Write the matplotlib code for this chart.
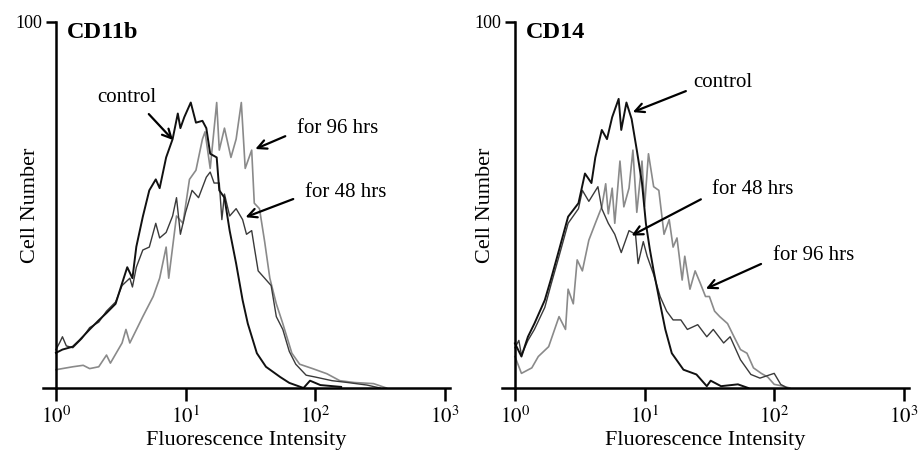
import numpy as np
import matplotlib
matplotlib.use("Agg")
import matplotlib.pyplot as plt
from matplotlib.ticker import NullLocator

plt.rcParams['font.family'] = ['Liberation Serif', 'DejaVu Serif']
plt.rcParams['mathtext.fontset'] = 'stix'

# log10 of fluorescence intensity, and cell counts (% of max scale)
# --- CD11b ---
cd11b_ctrl_log = [0.0, 0.05, 0.13, 0.18, 0.26, 0.33, 0.39, 0.46, 0.51, 0.55, 0.59, 0.62, 0.67, 0.72,
                  0.77, 0.80, 0.85, 0.90, 0.94, 0.96, 0.99, 1.04, 1.08, 1.13, 1.16, 1.19, 1.24, 1.26,
                  1.30, 1.34, 1.39, 1.44, 1.48, 1.55, 1.62, 1.73, 1.80, 1.91, 1.96, 2.04, 2.20]
cd11b_ctrl = [9.6, 10.5, 11.3, 13, 16, 18.5, 20.5, 23, 28.6, 33, 30, 38.6, 46.8, 54,
              57, 54.6, 63, 68, 75, 71, 74, 78, 72.5, 73, 71, 64, 63, 54,
              52, 43, 34, 24, 17.6, 9.5, 5.8, 3, 1.4, 0, 2, 0.8, 0.3]

cd11b_48_log = [0.0, 0.03, 0.05, 0.08, 0.13, 0.20, 0.26, 0.33, 0.39, 0.46, 0.51, 0.57, 0.59, 0.62,
                0.67, 0.72, 0.77, 0.80, 0.85, 0.90, 0.93, 0.96, 1.00, 1.05, 1.10, 1.16, 1.19, 1.22,
                1.26, 1.28, 1.30, 1.34, 1.39, 1.44, 1.47, 1.51, 1.53, 1.56, 1.61, 1.66, 1.70, 1.75,
                1.80, 1.85, 1.93, 2.00, 2.13, 2.25, 2.40, 2.50]
cd11b_48 = [10.5, 12.5, 14, 11.5, 11, 13.5, 16.5, 18, 21, 23.5, 28, 30, 27.6, 33,
            37.7, 38.5, 45, 41, 42.5, 47, 52, 42, 48, 54, 52, 57.6, 59, 56,
            56, 46, 53, 47, 49, 46, 42, 43, 38.5, 32, 30, 28, 19.5, 16,
            10, 6.5, 3.5, 3, 2, 1.5, 0.8, 0]

cd11b_96_log = [0.0, 0.13, 0.21, 0.26, 0.33, 0.39, 0.42, 0.51, 0.54, 0.57, 0.67, 0.75, 0.80, 0.85,
                0.87, 0.93, 0.98, 1.03, 1.08, 1.13, 1.15, 1.19, 1.24, 1.26, 1.30, 1.35, 1.39, 1.43,
                1.46, 1.51, 1.53, 1.57, 1.61, 1.65, 1.70, 1.75, 1.82, 1.88, 1.98, 2.09, 2.19, 2.30,
                2.45, 2.55]
cd11b_96 = [5, 5.8, 6.2, 5.3, 5.8, 9, 6.8, 12.3, 16, 12.3, 19.5, 25, 30, 38.5,
            30, 47, 45, 57, 59.5, 68, 70, 60, 78, 65, 71, 63, 68, 78,
            60, 65, 50.5, 49, 40, 30, 23, 17.6, 9.5, 6.5, 5.3, 3.9, 2, 1.5,
            1.2, 0]

# --- CD14 ---
cd14_ctrl_log = [0.0, 0.05, 0.10, 0.15, 0.23, 0.28, 0.34, 0.41, 0.49, 0.54, 0.59, 0.62, 0.67, 0.71,
                 0.75, 0.80, 0.82, 0.86, 0.90, 0.94, 0.98, 1.01, 1.04, 1.07, 1.12, 1.16, 1.21, 1.30,
                 1.40, 1.48, 1.51, 1.59, 1.72, 1.80]
cd14_ctrl = [12.2, 8.6, 14, 17.6, 24, 30, 37.7, 46.8, 50.5, 58.6, 56, 63, 70.5, 68,
             74, 79, 70.5, 78, 73.5, 65, 56, 45, 38, 32, 23, 16, 9.5, 5,
             3.7, 0.5, 2, 0.5, 1, 0]

cd14_48_log = [0.0, 0.03, 0.05, 0.10, 0.15, 0.23, 0.28, 0.34, 0.41, 0.49, 0.52, 0.57, 0.64, 0.67,
               0.72, 0.77, 0.82, 0.88, 0.93, 0.95, 0.99, 1.02, 1.07, 1.12, 1.17, 1.22, 1.28, 1.33,
               1.41, 1.48, 1.53, 1.61, 1.66, 1.74, 1.82, 1.89, 2.00, 2.05, 2.10]
cd14_48 = [11, 13, 9, 13, 16, 22, 28.5, 36, 45, 49, 54, 51, 55, 49,
           45, 42, 37, 43, 42, 34, 40, 36, 31, 25, 21, 18.6, 18.6, 16,
           17.3, 14, 16, 12.3, 14, 7.7, 3.7, 2.7, 4, 1, 0]

cd14_96_log = [0.0, 0.05, 0.13, 0.18, 0.26, 0.34, 0.39, 0.41, 0.45, 0.48, 0.52, 0.57, 0.62, 0.67,
               0.70, 0.72, 0.75, 0.77, 0.81, 0.84, 0.88, 0.91, 0.94, 0.98, 1.00, 1.03, 1.07, 1.11,
               1.15, 1.19, 1.22, 1.25, 1.29, 1.31, 1.35, 1.39, 1.43, 1.47, 1.50, 1.54, 1.58, 1.64,
               1.69, 1.74, 1.79, 1.84, 1.90, 1.95, 2.00, 2.07, 2.12]
cd14_96 = [8.6, 4, 5.5, 8.6, 11.3, 19.5, 16, 27, 23, 35, 32, 40.4, 45, 49.5,
           55.8, 47.6, 54.6, 45, 62, 49.5, 54.6, 65, 48, 62, 49.6, 64, 55, 54,
           42, 46, 38.5, 41, 29.5, 36, 27, 32, 28.6, 25, 25, 21, 19.5, 17.6,
           14, 10.5, 9.5, 5.5, 4, 3, 1, 0.5, 0]

panels = [
    dict(title="CD11b", left=43, ylab_x=-0.008,
         ctrl=(cd11b_ctrl_log, cd11b_ctrl), h48=(cd11b_48_log, cd11b_48), h96=(cd11b_96_log, cd11b_96),
         notes=[("control", (3.53, 79.5), (5.03, 75.4), (8.27, 67.2), "center"),
                ("for 96 hrs", (72.1, 70.8), (61.5, 69.1), (33.0, 65.0), "left"),
                ("for 48 hrs", (83.1, 53.3), (70.9, 51.9), (27.7, 46.4), "left")]),
    dict(title="CD14", left=502, ylab_x=-0.018,
         ctrl=(cd14_ctrl_log, cd14_ctrl), h48=(cd14_48_log, cd14_48), h96=(cd14_96_log, cd14_96),
         notes=[("control", (23.8, 83.6), (21.8, 81.4), (7.75, 75.1), "left"),
                ("for 48 hrs", (33.4, 54.1), (28.4, 51.9), (7.6, 41.3), "left"),
                ("for 96 hrs", (97.2, 36.3), (82.8, 34.2), (28.4, 26.8), "left")]),
]

W, H = 919, 457
fig = plt.figure(figsize=(W / 100, H / 100), dpi=100)

for p in panels:
    ax = fig.add_axes([p["left"] / W, 69 / H, 407 / W, 366 / H])
    ax.set_xscale("log")
    ax.set_xlim(10 ** -0.1, 10 ** 3.04)
    ax.set_ylim(0, 100)

    for (lg, v), col, lw in [(p["h96"], "#8a8a8a", 1.2), (p["h48"], "#3a3a3a", 1.0),
                             (p["ctrl"], "#111111", 1.4)]:
        ax.plot(10 ** np.array(lg), v, color=col, lw=lw)

    ax.spines["top"].set_visible(False)
    ax.spines["right"].set_visible(False)
    ax.spines["left"].set_position(("data", 1))
    ax.spines["left"].set_bounds(0, 100)
    ax.spines["left"].set_linewidth(1.8)
    ax.spines["bottom"].set_linewidth(1.8)

    ax.set_xticks([1, 10, 100, 1000])
    ax.set_xticklabels([r"$10^0$", r"$10^1$", r"$10^2$", r"$10^3$"], fontsize=15)
    ax.xaxis.set_minor_locator(NullLocator())
    ax.set_yticks([100])
    ax.set_yticklabels(["100"], fontsize=13)
    ax.tick_params(axis="x", direction="out", length=9, width=1.8, pad=4)
    ax.tick_params(axis="y", direction="out", length=7, width=1.8, pad=3)

    ax.set_xlabel("Fluorescence Intensity", fontsize=16, labelpad=2)
    ax.set_ylabel("Cell Number", fontsize=16)
    ax.yaxis.set_label_coords(p["ylab_x"], 0.5)

    ax.text(1.22, 97, p["title"], fontsize=17.5, fontweight="bold", ha="left", va="center")
    for txt, tpos, tail, head, ha in p["notes"]:
        ax.text(tpos[0], tpos[1], txt, fontsize=15, ha=ha, va="center")
        ax.annotate("", xy=head, xytext=tail,
                    arrowprops=dict(arrowstyle="->", color="black", lw=1.6, mutation_scale=16))

fig.savefig("out.png", dpi=100)
